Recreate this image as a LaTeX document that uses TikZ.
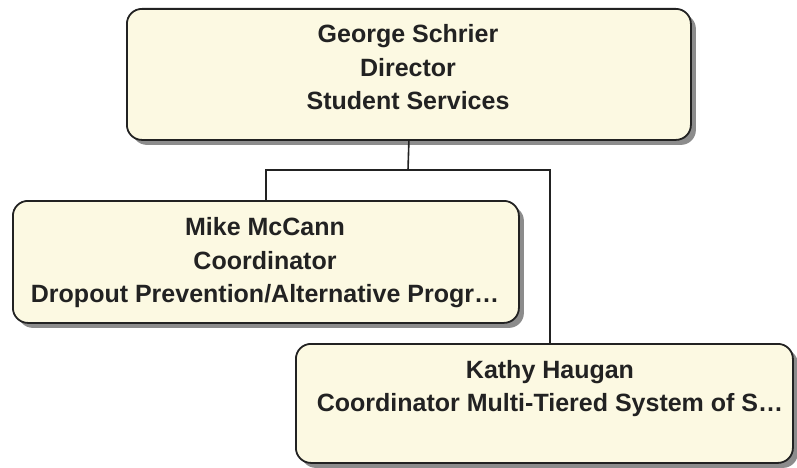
\documentclass[tikz,border=0pt]{standalone}
\usepackage{fontspec}
\setmainfont{Liberation Sans}
\usetikzlibrary{shadows}
\definecolor{boxfill}{HTML}{FCF9E2}
\definecolor{shadowgray}{HTML}{8C8C8C}
\definecolor{ink}{HTML}{222222}
\begin{document}
\begin{tikzpicture}[x=1pt,y=-1pt,
  box/.style={draw=ink,line width=1.8pt,fill=boxfill,rounded corners=15pt,
    inner sep=0pt,anchor=north west,
    general shadow={fill=shadowgray,shadow xshift=5pt,shadow yshift=-5pt}},
  lbl/.style={font=\bfseries\fontsize{25}{33.5}\selectfont,align=center,text=ink,
    inner sep=0pt,anchor=north},
  conn/.style={draw=ink,line width=1.6pt}]
\useasboundingbox (0,0) rectangle (797,468);
% boxes
\node[box,minimum width=564pt,minimum height=131pt] (georgebox) at (126,8) {};
\node[box,minimum width=506pt,minimum height=122pt] (mikebox) at (12,200) {};
\node[box,minimum width=497pt,minimum height=119pt] (kathybox) at (295,343) {};
% texts
\node[lbl] (george) at (408,24.5) {George Schrier\\Director\\Student Services};
\node[lbl] (mike) at (265,217.5) {Mike McCann\\Coordinator\\Dropout Prevention/Alternative Progr…};
\node[lbl] (kathy) at (550,360) {Kathy Haugan\\Coordinator Multi-Tiered System of S…};
% connectors
\coordinate (j) at (408,170);
\coordinate (kin) at (550,343);
\draw[conn] (georgebox.south) -- (j);
\draw[conn] (mikebox.north) |- (j) -| (kin);
\end{tikzpicture}
\end{document}
